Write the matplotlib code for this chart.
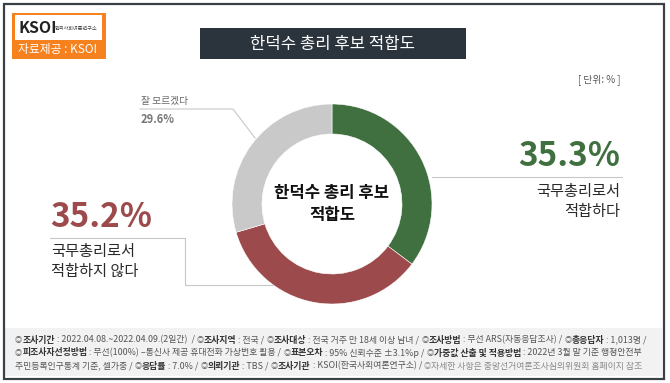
import matplotlib
matplotlib.use('Agg')
import matplotlib.pyplot as plt
from matplotlib.patches import Rectangle

plt.rcParams['font.family'] = ['Noto Sans CJK KR', 'DejaVu Sans']

# 데이터
제목 = '한덕수 총리 후보 적합도'
중앙글 = '한덕수 총리 후보\n적합도'
항목 = ['국무총리로서\n적합하다', '국무총리로서\n적합하지 않다', '잘 모르겠다']
비율 = [35.3, 35.2, 29.6]
색상 = ['#40703f', '#9c4a4b', '#c9c9c9']

주석 = [
    [('◎', 0), ('조사기간', 1), (' : 2022.04.08.~2022.04.09.(2일간)  / ', 0), ('◎', 0), ('조사지역', 1), (' : 전국 / ', 0),
     ('◎', 0), ('조사대상', 1), (' : 전국 거주 만 18세 이상 남녀 / ', 0), ('◎', 0), ('조사방법', 1),
     (' : 무선 ARS(자동응답조사) / ', 0), ('◎', 0), ('총응답자', 1), (' : 1,013명 /', 0)],
    [('◎', 0), ('피조사자선정방법', 1), (' : 무선(100%) –통신사 제공 휴대전화 가상번호 활용 / ', 0), ('◎', 0), ('표본오차', 1),
     (' : 95% 신뢰수준 ±3.1%p / ', 0), ('◎', 0), ('가중값 산출 및 적용방법', 1), (' : 2022년 3월 말 기준 행정안전부', 0)],
    [('주민등록인구통계 기준, 셀가중 / ', 0), ('◎', 0), ('응답률', 1), (' : 7.0% / ', 0), ('◎', 0), ('의뢰기관', 1),
     (' : TBS / ', 0), ('◎', 0), ('조사기관', 1), (' : KSOI(한국사회여론연구소) / ', 0),
     ('◎', 2), ('자세한 사항은 중앙선거여론조사심의위원회 홈페이지 참조', 2)],
]

W, H = 670, 383
fig = plt.figure(figsize=(W / 100, H / 100), dpi=100)
fig.patch.set_facecolor('white')
ax = fig.add_axes([0, 0, 1, 1])
ax.set_xlim(0, W)
ax.set_ylim(H, 0)
ax.axis('off')

# 테두리, 하단 회색 영역
ax.add_patch(Rectangle((5, 328), 657, 48, facecolor='#f2f2f2', edgecolor='none'))
ax.add_patch(Rectangle((3.5, 3.5), 660, 375, facecolor='none', edgecolor='#3b4046', lw=1.6))

# 로고
ax.add_patch(Rectangle((12, 13), 94, 46, facecolor='#f5821f', edgecolor='none'))
ax.add_patch(Rectangle((15, 15), 87, 25, facecolor='white', edgecolor='none'))
ax.text(19, 28, 'KSOI', fontsize=11.5, fontweight='bold', color='#222222', va='center', ha='left')
ax.text(55, 28, '한국사회여론연구소', fontsize=3.7, color='#444444', va='center', ha='left')
ax.text(58, 50, '자료제공 : KSOI', fontsize=8.5, color='white', va='center', ha='center')

# 제목 상자
ax.add_patch(Rectangle((200, 28), 266, 31, facecolor='#2b333d', edgecolor='none'))
ax.text(333, 44, 제목, fontsize=12, color='white', va='center', ha='center')

ax.text(620, 80, '[ 단위: % ]', fontsize=7, color='#555555', va='center', ha='right')

# 도넛
cx, cy, r = 332, 204, 100
pax = fig.add_axes([(cx - r) / W, (H - cy - r) / H, 2 * r / W, 2 * r / H])
pax.pie(비율, colors=색상, startangle=90, counterclock=False, radius=1,
        wedgeprops=dict(width=0.3, edgecolor='white', linewidth=0.4))
pax.set_xlim(-1, 1)
pax.set_ylim(-1, 1)
pax.axis('off')
pax.text(0, 0, 중앙글, fontsize=12, fontweight='bold', color='#111111',
         ha='center', va='center', linespacing=1.25)

# 연결선
선색 = '#c8c8c8'
ax.plot([432, 622], [177, 177], color=선색, lw=0.8)
ax.plot([50, 185, 185, 275], [238, 238, 285, 285], color=선색, lw=0.8)
ax.plot([140, 233, 255], [109, 109, 138], color=선색, lw=0.8)

# 라벨
ax.text(620, 173, f'{비율[0]}%', fontsize=24, fontweight='bold', color=색상[0], ha='right', va='bottom')
ax.text(620, 183, 항목[0], fontsize=11, color='#2a2a2a', ha='right', va='top', linespacing=1.25)

ax.text(50, 234, f'{비율[1]}%', fontsize=24, fontweight='bold', color=색상[1], ha='left', va='bottom')
ax.text(51, 243, 항목[1], fontsize=11, color='#2a2a2a', ha='left', va='top', linespacing=1.25)

ax.text(141, 106, 항목[2], fontsize=7, color='#666666', ha='left', va='bottom')
ax.text(141, 113, f'{비율[2]}%', fontsize=8, fontweight='bold', color='#777777', ha='left', va='top')

# 하단 조사개요 (굵은 글씨 섞기)
renderer = fig.canvas.get_renderer()
글색 = {0: '#555555', 1: '#333333', 2: '#8a8a8a'}
for i, 줄 in enumerate(주석):
    x = 15
    y = 340 + i * 13
    for 글, 굵기 in 줄:
        크기 = 5.2 if 글 == '◎' else 6.4
        t = ax.text(x, y, 글, fontsize=크기, color=글색[굵기],
                    fontweight='bold' if 굵기 == 1 else 'normal', ha='left', va='center')
        x += t.get_window_extent(renderer).width

fig.savefig('out.png', dpi=100)
